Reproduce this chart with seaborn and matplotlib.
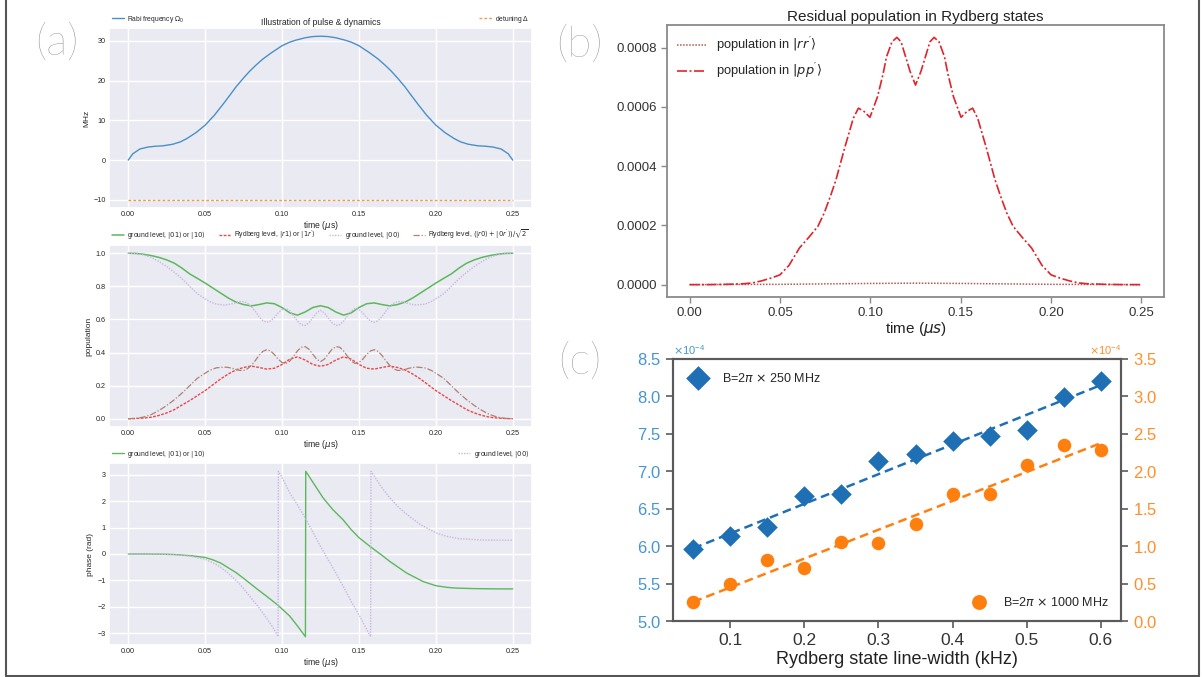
import numpy as np
import matplotlib
matplotlib.use("Agg")
import matplotlib.pyplot as plt
import seaborn as sns
from matplotlib.lines import Line2D
from matplotlib.ticker import ScalarFormatter

# ---------------- (a) pulse & dynamics ----------------
rabi_t = [0, .003, .0076, .013, .018, .0227, .029, .034, .038, .044, .05, .056, .0617, .066, .07,
          .075, .079, .083, .0877, .093, .1, .105, .109, .115, .12, .125,
          .13, .135, .141, .145, .15, .157, .1623, .167, .171, .175, .18, .184, .1883, .194, .2,
          .206, .212, .216, .221, .2273, .232, .237, .2424, .247, .25]
rabi_mhz = [0, 1.6, 2.8, 3.3, 3.5, 3.6, 4.0, 4.6, 5.4, 6.9, 8.8, 11.3, 14.1, 16.3, 18.4,
            20.7, 22.4, 23.9, 25.5, 27.0, 28.8, 29.7, 30.2, 30.8, 31.1, 31.2,
            31.1, 30.8, 30.2, 29.7, 28.8, 27.0, 25.5, 23.9, 22.4, 20.7, 18.4, 16.3, 14.1, 11.3, 8.8,
            6.9, 5.4, 4.6, 4.0, 3.6, 3.5, 3.3, 2.8, 1.6, 0]
detuning_t = [0, 0.25]
detuning_mhz = [-10, -10]

# populations, coarse grid (|01>, |r1>)
pop_t_a = [0, .005, .01, .015, .02, .025, .03, .035, .04, .045, .05, .055, .06, .065, .07, .075,
           .08, .085, .09, .095, .1, .105, .11, .115, .12, .125, .13, .135, .14, .145, .15, .155,
           .16, .165, .17, .175, .18, .185, .19, .195, .2, .205, .21, .215, .22, .225, .23, .235,
           .24, .245, .25]
pop_g01 = [1.0, .999, .994, .986, .975, .96, .94, .91, .875, .848, .82, .79, .76, .73, .705, .69,
           .682, .69, .70, .695, .672, .64, .626, .645, .672, .683,
           .672, .645, .626, .64, .672, .695, .70, .69, .682, .69, .705, .73, .76, .79, .82, .848,
           .875, .91, .94, .96, .975, .986, .994, .999, 1.0]
pop_r1 = [0, .001, .004, .009, .02, .035, .055, .083, .11, .14, .17, .205, .24, .27, .295, .31,
          .318, .31, .30, .305, .328, .36, .374, .355, .328, .317,
          .328, .355, .374, .36, .328, .305, .30, .31, .318, .31, .295, .27, .24, .205, .17, .14,
          .11, .083, .055, .035, .02, .009, .004, .001, 0]

# populations, fine grid (|00>, (|r0>+|0r'>)/sqrt2)
pop_t_b = [0, .005, .01, .015, .02, .025, .03, .035, .04, .045, .05, .0525, .055, .0575, .06,
           .0625, .065, .0675, .07, .0725, .075, .0775, .08, .0825, .085, .0875, .09, .0925, .095,
           .0975, .1, .1025, .105, .1075, .11, .1125, .115, .1175, .12, .1225, .125,
           .1275, .13, .1325, .135, .1375, .14, .1425, .145, .1475, .15, .1525, .155, .1575, .16,
           .1625, .165, .1675, .17, .1725, .175, .1775, .18, .1825, .185, .1875, .19, .1925, .195,
           .1975, .2, .205, .21, .215, .22, .225, .23, .235, .24, .245, .25]
pop_g00 = [1.0, .998, .99, .975, .95, .92, .885, .845, .80, .755, .725, .71, .70, .692, .69,
           .688, .69, .695, .702, .708, .708, .698, .678, .65, .618, .593, .583, .59, .612, .64,
           .66, .666, .652, .622, .59, .568, .564, .58, .61, .64, .655,
           .64, .61, .58, .564, .568, .59, .622, .652, .666, .66, .64, .612, .59, .583, .593, .618,
           .65, .678, .698, .708, .708, .702, .695, .69, .688, .69, .692, .70, .71, .725, .755,
           .80, .845, .885, .92, .95, .975, .99, .998, 1.0]
pop_r0 = [0, .002, .01, .025, .05, .08, .115, .155, .20, .245, .275, .29, .30, .308, .31,
          .312, .31, .305, .298, .292, .292, .302, .322, .35, .382, .407, .417, .41, .388, .36,
          .34, .334, .348, .378, .41, .432, .436, .42, .39, .36, .345,
          .36, .39, .42, .436, .432, .41, .378, .348, .334, .34, .36, .388, .41, .417, .407, .382,
          .35, .322, .302, .292, .292, .298, .305, .31, .312, .31, .308, .30, .29, .275, .245,
          .20, .155, .115, .08, .05, .025, .01, .002, 0]

# phases
phase01_t = [0, .01, .02, .03, .04, .05, .055, .06, .065, .07, .075, .08, .085, .09, .0974, .105,
             .11, .1152, .1154, .12, .1266, .133, .1396, .145, .15, .158, .165, .17, .181, .1916,
             .2, .207, .213, .225, .24, .25]
phase01 = [0, 0, -.005, -.02, -.06, -.13, -.22, -.34, -.52, -.70, -.92, -1.15, -1.38, -1.6,
           -1.94, -2.35, -2.72, -3.13, 3.13, 2.72, 2.13, 1.68, 1.30, .92, .62, .25, -.05, -.28,
           -.72, -1.04, -1.2, -1.26, -1.29, -1.31, -1.32, -1.32]
phase00_t = [0, .01, .02, .03, .04, .05, .058, .065, .072, .08, .085, .09, .094, .0974, .0976,
             .1, .105, .11, .115, .12, .125, .13, .135, .14, .145, .15, .1576, .1578, .161, .165,
             .17, .175, .18, .19, .2, .207, .215, .23, .25]
phase00 = [0, 0, -.005, -.02, -.08, -.2, -.42, -.72, -1.1, -1.67, -2.03, -2.43, -2.77, -3.13,
           3.13, 2.9, 2.32, 1.85, 1.37, .83, .29, -.22, -.72, -1.25, -1.8, -2.3, -3.13, 3.13,
           2.85, 2.5, 2.13, 1.81, 1.55, 1.11, .8, .67, .58, .53, .52]

# ---------------- (b) residual population (units of 1e-4) ----------------
pp_t = [0, .01, .02, .03, .035, .04, .045, .05, .055, .0608, .066, .071, .0745, .078, .081,
        .086, .0906, .0934, .0965, .0998, .104, .107, .109, .112, .1147, .117, .119, .122, .125,
        .128, .131, .133, .1353, .138, .141, .143, .146, .1502, .1535, .1566, .1594, .164, .169,
        .172, .1755, .179, .184, .1892, .195, .2, .205, .21, .215, .22, .23, .24, .25]
pp_pop_e4 = [0, 0, .01, .03, .06, .13, .22, .33, .65, 1.24, 1.6, 1.97, 2.42, 3.0, 3.54,
             4.66, 5.62, 5.96, 5.85, 5.65, 6.35, 7.1, 7.7, 8.2, 8.35, 8.2, 7.8, 7.2, 6.74,
             7.2, 7.8, 8.2, 8.35, 8.2, 7.7, 7.1, 6.35, 5.65, 5.85, 5.96, 5.62, 4.66, 3.54,
             3.0, 2.42, 1.97, 1.6, 1.24, .65, .33, .22, .13, .06, .03, .01, 0, 0]
rr_t = [0, .05, .1, .125, .15, .2, .25]
rr_pop_e4 = [0, .01, .04, .05, .04, .01, 0]

# ---------------- (c) error vs line-width ----------------
linewidth_khz = [0.05, 0.1, 0.15, 0.2, 0.25, 0.3, 0.35, 0.4, 0.45, 0.5, 0.55, 0.6]
err_250_e4 = [5.96, 6.14, 6.26, 6.67, 6.70, 7.14, 7.23, 7.41, 7.47, 7.55, 7.99, 8.21]
err_1000_e4 = [0.26, 0.50, 0.81, 0.71, 1.05, 1.04, 1.29, 1.70, 1.70, 2.09, 2.35, 2.29]

sns.set_theme(style="darkgrid")
plt.rcParams['font.family'] = ['Liberation Sans Narrow', 'Liberation Sans', 'DejaVu Sans']
plt.rcParams['mathtext.fontset'] = 'custom'
plt.rcParams['mathtext.rm'] = 'Liberation Sans Narrow'
plt.rcParams['mathtext.it'] = 'Liberation Sans Narrow:italic'
plt.rcParams['mathtext.bf'] = 'Liberation Sans Narrow:bold'
plt.rcParams['mathtext.sf'] = 'Liberation Sans Narrow'
plt.rcParams['mathtext.fallback'] = 'stixsans'
plt.rcParams['axes.unicode_minus'] = True

fig = plt.figure(figsize=(12.03, 6.77), dpi=100)
W, H = 1203, 677


def box(l, t, r, b):
    return [l / W, 1 - b / H, (r - l) / W, (b - t) / H]


t_ticks = [0, 0.05, 0.1, 0.15, 0.2, 0.25]


def style_a(ax, ylabel, ncol):
    ax.set_xticks(t_ticks)
    ax.set_xticklabels(["0.00", "0.05", "0.10", "0.15", "0.20", "0.25"])
    ax.set_xlabel(r"time ($\mu$s)", fontsize=6.2, labelpad=0.5)
    ax.set_ylabel(ylabel, fontsize=6, labelpad=2)
    ax.tick_params(labelsize=5.2, pad=2.5, length=0)
    ax.legend(loc="lower left", bbox_to_anchor=(0., 1.004, 1., .1), ncol=ncol, mode="expand",
              borderaxespad=0., frameon=False, fontsize=4.9, handlelength=1.8,
              handletextpad=0.5, columnspacing=0.8)


def line(ax, x, y, **kw):
    sns.lineplot(x=x, y=y, ax=ax, estimator=None, sort=False, **kw)


# a1
ax1 = fig.add_axes(box(109, 28, 532, 208))
line(ax1, rabi_t, rabi_mhz, color="#4a90c8", lw=1.0, label=r"Rabi frequency $\Omega_0$")
line(ax1, detuning_t, detuning_mhz, color="#f39a4a", lw=1.0, linestyle=(0, (2, 1.5)),
     label=r"detuning $\Delta$")
ax1.set_yticks([-10, 0, 10, 20, 30])
style_a(ax1, "MHz", 2)
ax1.set_title("Illustration of pulse & dynamics", fontsize=6.2, pad=2.5)

# a2
ax2 = fig.add_axes(box(109, 245, 532, 427))
line(ax2, pop_t_a, pop_g01, color="#5cb85c", lw=1.1, label=r"ground level, $|01\rangle$ or $|10\rangle$")
line(ax2, pop_t_a, pop_r1, color="#e84a4a", lw=1.0, linestyle=(0, (2, 1)),
     label=r"Rydberg level, $|r1\rangle$ or $|1r'\rangle$")
line(ax2, pop_t_b, pop_g00, color="#c9b6e4", lw=1.0, linestyle=(0, (1, 1)),
     label=r"ground level, $|00\rangle$")
line(ax2, pop_t_b, pop_r0, color="#b08070", lw=0.9, linestyle=(0, (5, 1.5, 1, 1.5)),
     label=r"Rydberg level, $(|r0\rangle + |0r'\rangle)/\sqrt{2}$")
ax2.set_yticks([0, 0.2, 0.4, 0.6, 0.8, 1.0])
style_a(ax2, "population", 4)

# a3
ax3 = fig.add_axes(box(109, 463, 532, 645))
line(ax3, phase01_t, phase01, color="#5cb85c", lw=1.0, label=r"ground level, $|01\rangle$ or $|10\rangle$")
line(ax3, phase00_t, phase00, color="#c9b6e4", lw=1.0, linestyle=(0, (1, 1)),
     label=r"ground level, $|00\rangle$")
ax3.set_yticks([-3, -2, -1, 0, 1, 2, 3])
style_a(ax3, "phase (rad)", 2)

# ---------------- (b) ----------------
axb = fig.add_axes(box(667, 25, 1164, 297))
axb.set_facecolor("white")
axb.grid(False)
line(axb, rr_t, np.array(rr_pop_e4) * 1e-4, color="#b5574e", lw=1.1, linestyle=(0, (1, 1)),
     label=r"population in $|rr'\rangle$")
line(axb, pp_t, np.array(pp_pop_e4) * 1e-4, color="#e0242b", lw=1.2,
     linestyle=(0, (6, 1.5, 1.2, 1.5)), label=r"population in $|pp'\rangle$")
for s in axb.spines.values():
    s.set_visible(True)
    s.set_color("#8a8a8a")
    s.set_linewidth(1.3)
axb.set_xticks(t_ticks)
axb.set_xticklabels(["0.00", "0.05", "0.10", "0.15", "0.20", "0.25"])
axb.set_yticks([0, 0.0002, 0.0004, 0.0006, 0.0008])
axb.set_yticklabels(["0.0000", "0.0002", "0.0004", "0.0006", "0.0008"])
axb.tick_params(direction="out", length=4, width=1, color="#8a8a8a", labelsize=9.5,
                labelcolor="#333333", pad=3, bottom=True, left=True)
axb.set_xlabel(r"time ($\mu s$)", fontsize=11, labelpad=1, color="#222222")
axb.set_title("Residual population in Rydberg states", fontsize=11, pad=3, color="#222222")
axb.legend(loc="upper left", frameon=False, fontsize=9.3, handlelength=2.2,
           borderaxespad=0.4, labelspacing=0.5)

# ---------------- (c) ----------------
blue_c = "#1f6fb4"
orange_c = "#ff7f0e"
axc = fig.add_axes(box(673, 359, 1121, 621))
axc.set_facecolor("white")
axc.grid(False)
axr = axc.twinx()
axr.grid(False)
x_c = np.array(linewidth_khz)
y250 = np.array(err_250_e4) * 1e-4
y1000 = np.array(err_1000_e4) * 1e-4
sns.regplot(x=x_c, y=y250, ax=axc, scatter=False, ci=None,
            line_kws=dict(color=blue_c, lw=1.8, linestyle=(0, (3.5, 2))))
sns.scatterplot(x=x_c, y=y250, ax=axc, marker="D", s=110, color=blue_c, linewidth=0,
                label=r"B=2$\pi$ $\times$ 250 MHz", zorder=3)
sns.regplot(x=x_c, y=y1000, ax=axr, scatter=False, ci=None,
            line_kws=dict(color=orange_c, lw=1.8, linestyle=(0, (3.5, 2))))
sns.scatterplot(x=x_c, y=y1000, ax=axr, marker="o", s=95, color=orange_c, linewidth=0,
                label=r"B=2$\pi$ $\times$ 1000 MHz", zorder=3)
axc.set_ylim(5.0e-4, 8.5e-4)
axr.set_ylim(0, 3.5e-4)
axc.set_yticks(np.arange(5.0, 8.51, 0.5) * 1e-4)
axr.set_yticks(np.arange(0, 3.51, 0.5) * 1e-4)
for a in (axc, axr):
    fmt = ScalarFormatter(useMathText=True)
    fmt.set_powerlimits((-4, -4))
    a.yaxis.set_major_formatter(fmt)
    for s in a.spines.values():
        s.set_visible(True)
        s.set_color("#5a5a5a")
        s.set_linewidth(1.5)
axc.set_xticks([0.1, 0.2, 0.3, 0.4, 0.5, 0.6])
axc.set_xlabel("Rydberg state line-width (kHz)", fontsize=13, labelpad=2, color="#222222")
axc.set_ylabel("")
axr.set_ylabel("")
axc.tick_params(axis="x", direction="out", length=5, width=1.2, color="#5a5a5a",
                labelsize=12.5, labelcolor="#333333", bottom=True)
axc.tick_params(axis="y", direction="out", length=5, width=1.2, color="#5a5a5a",
                labelsize=12, labelcolor="#4596d2", left=True)
axr.tick_params(axis="y", direction="out", length=5, width=1.2, color="#5a5a5a",
                labelsize=12, labelcolor="#ff8f2a", right=True)
axc.yaxis.get_offset_text().set_color("#4596d2")
axc.yaxis.get_offset_text().set_fontsize(8)
axr.yaxis.get_offset_text().set_color("#ff8f2a")
axr.yaxis.get_offset_text().set_fontsize(8)
axc.legend(loc="upper left", frameon=False, fontsize=9, handletextpad=0.9, markerscale=1.2,
           borderaxespad=0.6)
axr.legend(loc="lower right", frameon=False, fontsize=9, handletextpad=0.9, markerscale=1.1,
           borderaxespad=0.6)

# panel letters
for txt, (px, py) in {"(a)": (57, 43), "(b)": (579, 45), "(c)": (580, 362)}.items():
    fig.text(px / W, 1 - py / H, txt, fontsize=32, color="#8c8c8c", ha="center", va="center",
             family=["Lato", "DejaVu Sans"], fontweight="light")

# outer frame
for xs, ys in [([6, 6], [0, 676]), ([6, 1199], [676, 676]), ([1199, 1199], [0, 676])]:
    fig.add_artist(Line2D([x / W for x in xs], [1 - y / H for y in ys], color="#555555",
                          lw=1.5, transform=fig.transFigure))

fig.savefig("out.png", dpi=100, facecolor="white")
